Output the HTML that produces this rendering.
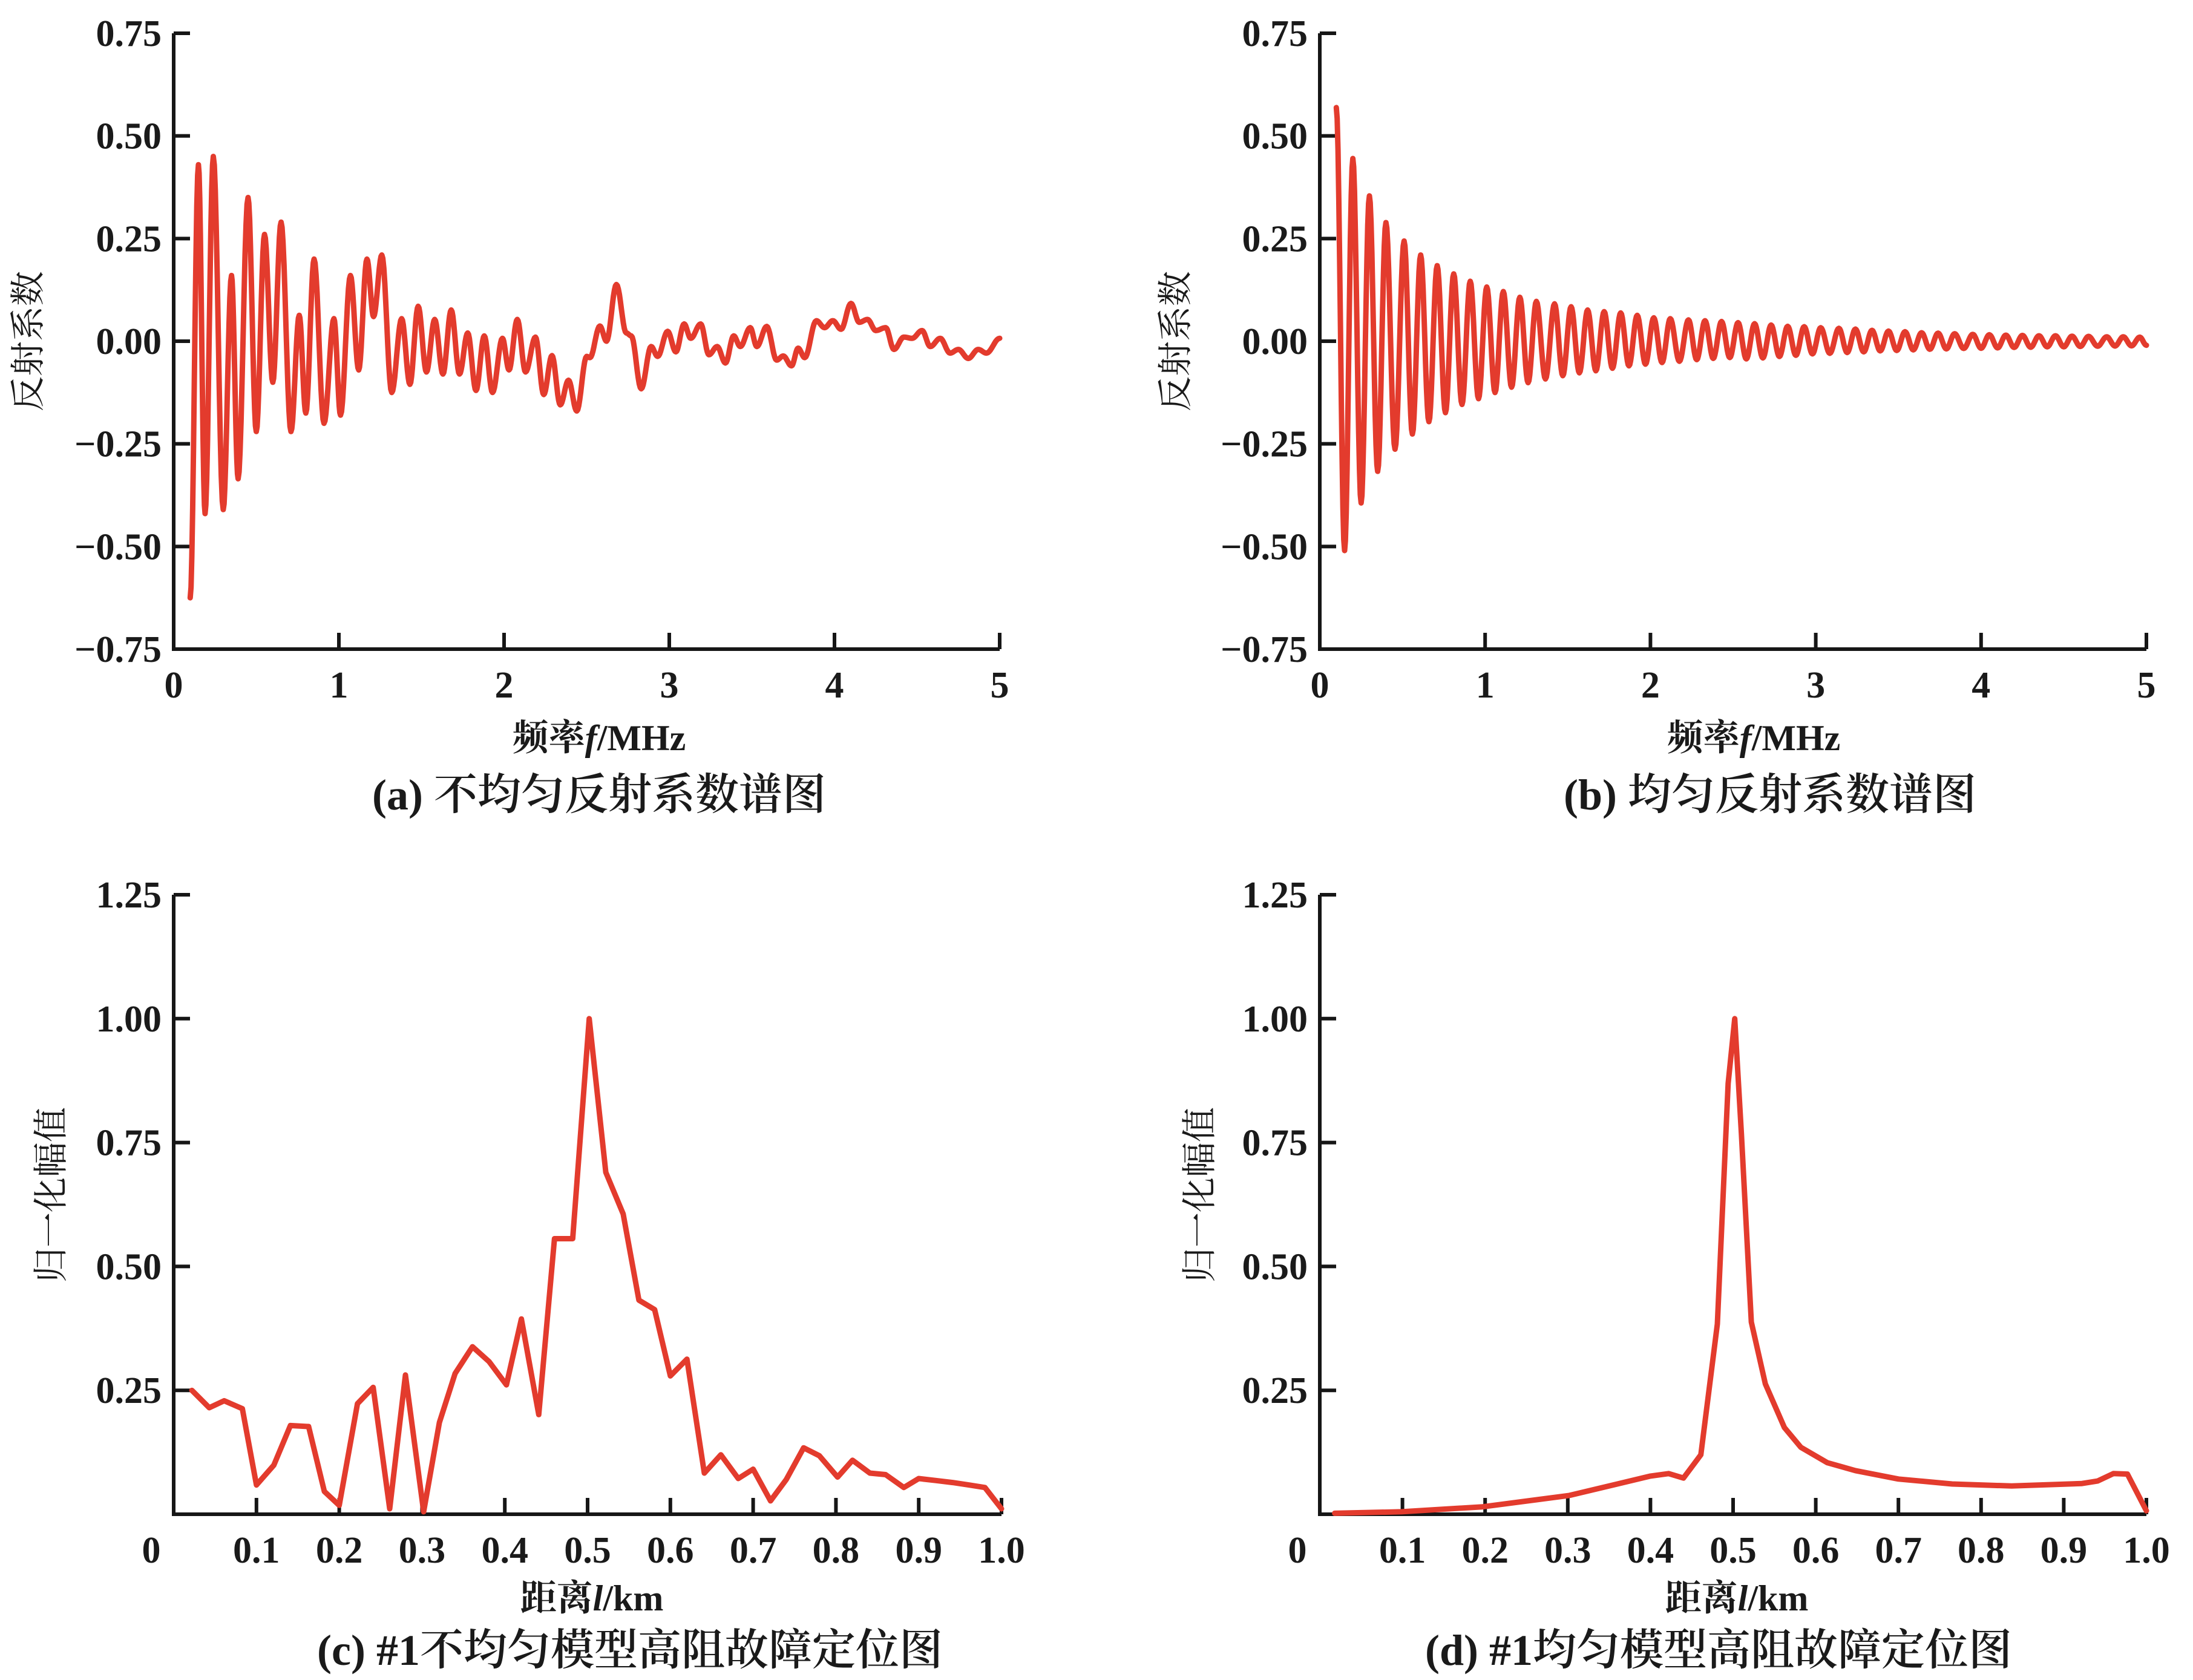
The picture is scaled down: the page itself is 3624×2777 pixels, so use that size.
<!DOCTYPE html>
<html><head><meta charset="utf-8"><style>
html,body{margin:0;padding:0;background:#fff;}
svg{display:block;}
text{font-family:"Liberation Serif","Noto Serif CJK SC",serif;fill:#1a1a1a;}
.tk{font-size:62px;font-weight:bold;}
.cn{font-family:"Liberation Serif","Noto Serif CJK SC",serif;}
.cap{font-weight:600;}
</style></head><body>
<svg id="fig" width="3624" height="2777" viewBox="0 0 3624 2777" xmlns="http://www.w3.org/2000/svg"></svg>
<script>
// ---------- Panel (a) data: extrema of non-uniform reflection spectrum ----------
const aFreq=[0.10,0.15,0.19,0.24,0.30,0.35,0.39,0.45,0.50,0.55,0.60,0.65,0.71,0.76,0.80,0.85,0.91,0.97,1.01,1.07,1.12,1.17,1.21,1.26,1.32,1.38,1.43,1.48,1.53,1.58,1.63,1.68,1.73,1.78,1.83,1.88,1.93,1.99,2.03,2.08,2.13,2.19,2.24,2.29,2.34,2.39,2.44,2.50,2.52,2.58,2.62,2.68,2.74,2.77,2.83,2.89,2.93,2.99,3.04,3.09,3.13,3.19,3.24,3.29,3.34,3.39,3.43,3.49,3.53,3.59,3.65,3.69,3.74,3.78,3.82,3.89,3.94,3.99,4.04,4.10,4.15,4.20,4.25,4.31,4.36,4.42,4.47,4.53,4.58,4.64,4.70,4.75,4.81,4.87,4.92,5.00];
const aVal=[-0.625,0.43,-0.42,0.45,-0.41,0.16,-0.335,0.35,-0.22,0.26,-0.10,0.29,-0.22,0.063,-0.175,0.20,-0.20,0.055,-0.18,0.16,-0.07,0.20,0.06,0.21,-0.125,0.055,-0.105,0.085,-0.075,0.053,-0.08,0.076,-0.08,0.02,-0.12,0.013,-0.125,0.007,-0.07,0.053,-0.075,0.01,-0.13,-0.035,-0.155,-0.095,-0.17,-0.037,-0.04,0.037,0.0,0.138,0.02,0.013,-0.116,-0.013,-0.037,0.024,-0.026,0.042,0.007,0.042,-0.033,-0.013,-0.053,0.013,-0.013,0.033,-0.013,0.036,-0.046,-0.036,-0.06,-0.017,-0.04,0.05,0.033,0.05,0.029,0.092,0.046,0.053,0.026,0.033,-0.02,0.01,0.007,0.026,-0.013,0.007,-0.029,-0.02,-0.042,-0.02,-0.029,0.007];
// ---------- Panel (b) data: peaks and troughs of uniform reflection spectrum ----------
const bPeakF=[0.10,0.20,0.30,0.40,0.51,0.61,0.71,0.81,0.91,1.01,1.11,1.21,1.31,1.42,1.52,1.62,1.72,1.82,1.92,2.02,2.12,2.23,2.33,2.43,2.53,2.63,2.73,2.83,2.93,3.03,3.14,3.24,3.34,3.44,3.54,3.64,3.74,3.84,3.95,4.05,4.15,4.25,4.35,4.45,4.55,4.65,4.76,4.86,4.96];
const bPeakV=[0.569,0.445,0.354,0.289,0.244,0.21,0.184,0.164,0.146,0.132,0.121,0.107,0.097,0.091,0.084,0.076,0.072,0.069,0.063,0.057,0.055,0.052,0.05,0.048,0.0452,0.0427,0.0393,0.0363,0.0354,0.0329,0.0314,0.0295,0.0265,0.0246,0.0231,0.0206,0.0196,0.0182,0.0167,0.0157,0.0147,0.0142,0.0133,0.0133,0.0123,0.0118,0.0108,0.0108,0.0098];
const bTroughV=[-0.51,-0.394,-0.317,-0.263,-0.226,-0.196,-0.174,-0.154,-0.14,-0.125,-0.112,-0.101,-0.092,-0.084,-0.077,-0.072,-0.066,-0.06,-0.056,-0.052,-0.049,-0.045,-0.042,-0.04,-0.0432,-0.0408,-0.0373,-0.0344,-0.0309,-0.0295,-0.0275,-0.0260,-0.0236,-0.0226,-0.0211,-0.0196,-0.0187,-0.0177,-0.0172,-0.0162,-0.0152,-0.0147,-0.0137,-0.0137,-0.0128,-0.0123,-0.0118,-0.0113,-0.0098];
// ---------- Panel (c) data ----------
const cDist=[0.022,0.043,0.061,0.083,0.100,0.121,0.141,0.163,0.182,0.200,0.222,0.241,0.261,0.280,0.302,0.321,0.340,0.361,0.381,0.402,0.420,0.441,0.460,0.482,0.502,0.522,0.543,0.562,0.581,0.600,0.620,0.641,0.661,0.682,0.700,0.721,0.740,0.761,0.780,0.802,0.820,0.841,0.860,0.882,0.900,0.921,0.941,0.961,0.980,1.0];
const cAmp=[0.25,0.215,0.229,0.213,0.059,0.099,0.179,0.177,0.046,0.018,0.223,0.256,0.011,0.281,0.005,0.185,0.284,0.338,0.308,0.261,0.394,0.201,0.556,0.556,1.0,0.69,0.606,0.432,0.413,0.279,0.313,0.083,0.12,0.072,0.091,0.027,0.07,0.134,0.118,0.075,0.109,0.083,0.08,0.054,0.072,0.068,0.064,0.059,0.054,0.011];
// ---------- Panel (d) data ----------
const dDist=[0.018,0.099,0.197,0.302,0.40,0.422,0.44,0.461,0.481,0.494,0.502,0.51,0.522,0.539,0.562,0.582,0.614,0.648,0.70,0.765,0.837,0.922,0.941,0.96,0.977,1.0];
const dAmp=[0.002,0.005,0.015,0.038,0.077,0.082,0.073,0.12,0.384,0.869,1.0,0.768,0.388,0.263,0.175,0.135,0.104,0.088,0.071,0.061,0.057,0.062,0.067,0.082,0.081,0.007];
// ---------- Tick labels ----------
const specYTicks=[0.75,0.50,0.25,0.00,-0.25,-0.50,-0.75];
const specYLabels=["0.75","0.50","0.25","0.00","\u22120.25","\u22120.50","\u22120.75"];
const specXTicks=[0,1,2,3,4,5];
const locYTicks=[1.25,1.00,0.75,0.50,0.25];
const locYLabels=["1.25","1.00","0.75","0.50","0.25"];
const locXTicks=[0,0.1,0.2,0.3,0.4,0.5,0.6,0.7,0.8,0.9,1.0];
const locXLabels=["0","0.1","0.2","0.3","0.4","0.5","0.6","0.7","0.8","0.9","1.0"];

const NS="http://www.w3.org/2000/svg";
const svg=document.getElementById('fig');
function mk(tag,attrs,parent){const e=document.createElementNS(NS,tag);for(const k in attrs)e.setAttribute(k,attrs[k]);(parent||svg).appendChild(e);return e;}
function txt(s,x,y,cls,anchor,parent,extra){const t=mk('text',Object.assign({x:x,y:y,'text-anchor':anchor||'middle'},extra||{}),parent);if(cls)t.setAttribute('class',cls);t.textContent=s;return t;}

const RED="#e33b2d";
function axes(g,x0,x1,yTop,yBot,sx,sy,yt,yl,xt,xl,zeroLeft){
  const ax=mk('path',{d:`M${x0},${yTop}V${yBot}H${x1}`,stroke:'#161616','stroke-width':6,fill:'none'},g);
  
  yt.forEach((v,i)=>{const y=sy(v);
    const l=mk('line',{x1:x0,y1:y,x2:x0+27,y2:y,stroke:'#161616','stroke-width':6},g);
    
    const t=txt(yl[i],x0-20,y+21,'tk','end',g);
    });
  xt.forEach((v,i)=>{const x=sx(v);
    if(v!==xt[0]){const l=mk('line',{x1:x,y1:yBot,x2:x,y2:yBot-27,stroke:'#161616','stroke-width':6},g);
    }
    let lx=x; if(zeroLeft&&i===0) lx=x-37;
    const t=txt(xl[i],lx,yBot+80,'tk','middle',g);
    });
}
function cosPath(xs,ys,sx,sy){
  let d=`M${sx(xs[0]).toFixed(1)},${sy(ys[0]).toFixed(1)}`;
  for(let i=1;i<xs.length;i++){
    const N=10;
    for(let k=1;k<=N;k++){const t=k/N;const w=(1-Math.cos(Math.PI*t))/2;
      const x=xs[i-1]+(xs[i]-xs[i-1])*t;const y=ys[i-1]+(ys[i]-ys[i-1])*w;
      d+=`L${sx(x).toFixed(1)},${sy(y).toFixed(1)}`;}
  }
  return d;
}
function linePath(xs,ys,sx,sy){return xs.map((x,i)=>(i?'L':'M')+sx(x).toFixed(1)+','+sy(ys[i]).toFixed(1)).join('');}

function panel(opts){
  const g=mk('g',{});
  
  const sx=v=>opts.x0+(v-opts.xmin)/(opts.xmax-opts.xmin)*(opts.x1-opts.x0);
  const sy=v=>opts.yBot-(v-opts.ymin)/(opts.ymax-opts.ymin)*(opts.yBot-opts.yTop);
  axes(g,opts.x0,opts.x1,opts.yTop,opts.yBot,sx,sy,opts.yt,opts.yl,opts.xt,opts.xl,opts.zeroLeft);
  const p=mk('path',{d:opts.path(sx,sy),stroke:RED,'stroke-width':9,fill:'none','stroke-linejoin':'round','stroke-linecap':'round'},g);
  
  const yl=txt(opts.ylabel,0,0,'cn','middle',g,{transform:`translate(${opts.ylx},${opts.yly}) rotate(-90)`,'font-size':58});
  
  const xl=mk('text',{x:opts.xtx,y:opts.xty,'text-anchor':'middle','font-size':60,'font-weight':'bold'},g);
  
  xl.innerHTML=opts.xtitle;
  const cp=txt(opts.caption,opts.cx,opts.cy,'cn cap','middle',g,{'font-size':72});
  
}

function bSeries(){
  const xs=[],ys=[];
  for(let i=0;i<bPeakF.length;i++){
    xs.push(bPeakF[i]);ys.push(bPeakV[i]);
    const nx=i+1<bPeakF.length?(bPeakF[i]+bPeakF[i+1])/2:5.0;
    xs.push(Math.min(nx,5.0));ys.push(bTroughV[i]);
  }
  return [xs,ys];
}
const specYL=specXTicks.map(String);

panel({name:'panel-a-nonuniform-spectrum',x0:287,x1:1652,yTop:55,yBot:1073,xmin:0,xmax:5,ymin:-0.75,ymax:0.75,
  yt:specYTicks,yl:specYLabels,xt:specXTicks,xl:specYL,
  path:(sx,sy)=>cosPath(aFreq,aVal,sx,sy),
  ylabel:'反射系数',ylx:66,yly:564,xtitle:'频率<tspan font-style="italic">f</tspan>/MHz',xtx:990,xty:1240,
  caption:'(a) 不均匀反射系数谱图',cx:990,cy:1338});
const bs=bSeries();
panel({name:'panel-b-uniform-spectrum',x0:2181,x1:3547,yTop:55,yBot:1073,xmin:0,xmax:5,ymin:-0.75,ymax:0.75,
  yt:specYTicks,yl:specYLabels,xt:specXTicks,xl:specYL,
  path:(sx,sy)=>cosPath(bs[0],bs[1],sx,sy),
  ylabel:'反射系数',ylx:1962,yly:564,xtitle:'频率<tspan font-style="italic">f</tspan>/MHz',xtx:2898,xty:1240,
  caption:'(b) 均匀反射系数谱图',cx:2925,cy:1338});
panel({name:'panel-c-nonuniform-location',x0:287,x1:1655,yTop:1479,yBot:2503,xmin:0,xmax:1,ymin:0,ymax:1.25,
  yt:locYTicks,yl:locYLabels,xt:locXTicks,xl:locXLabels,zeroLeft:true,
  path:(sx,sy)=>linePath(cDist,cAmp,sx,sy),
  ylabel:'归一化幅值',ylx:104,yly:1975,xtitle:'距离<tspan font-style="italic">l</tspan>/km',xtx:978,xty:2662,
  caption:'(c) #1不均匀模型高阻故障定位图',cx:1041,cy:2752});
panel({name:'panel-d-uniform-location',x0:2181,x1:3547,yTop:1479,yBot:2503,xmin:0,xmax:1,ymin:0,ymax:1.25,
  yt:locYTicks,yl:locYLabels,xt:locXTicks,xl:locXLabels,zeroLeft:true,
  path:(sx,sy)=>linePath(dDist,dAmp,sx,sy),
  ylabel:'归一化幅值',ylx:2002,yly:1975,xtitle:'距离<tspan font-style="italic">l</tspan>/km',xtx:2870,xty:2662,
  caption:'(d) #1均匀模型高阻故障定位图',cx:2840,cy:2752});
</script>
</body></html>
